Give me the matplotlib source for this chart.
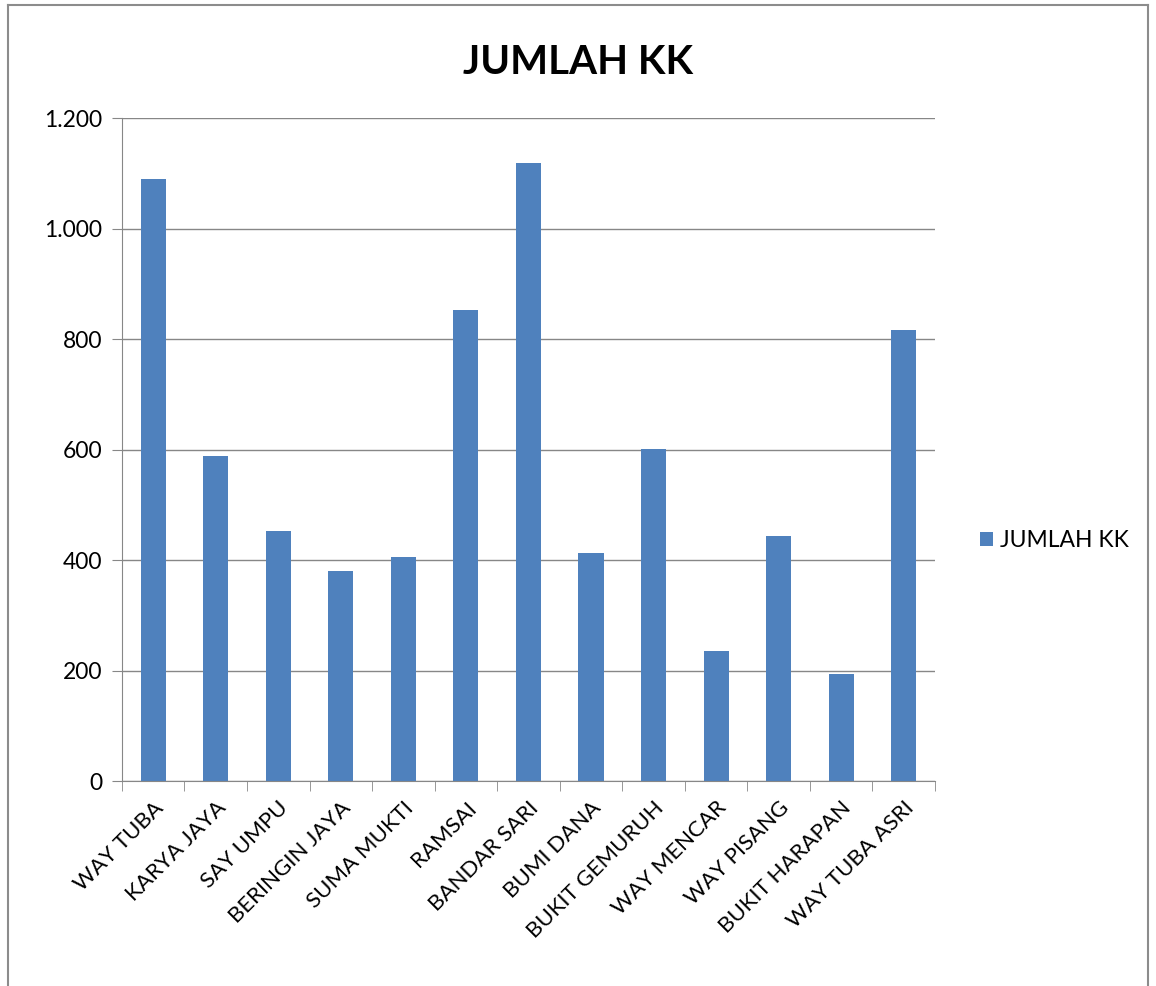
import matplotlib
matplotlib.use('Agg')
import matplotlib.pyplot as plt
from matplotlib.ticker import FuncFormatter, FixedLocator
from matplotlib.lines import Line2D

plt.rcParams['font.family'] = ['Lato', 'DejaVu Sans']

# Data
desa = ['WAY TUBA', 'KARYA JAYA', 'SAY UMPU', 'BERINGIN JAYA', 'SUMA MUKTI',
        'RAMSAI', 'BANDAR SARI', 'BUMI DANA', 'BUKIT GEMURUH', 'WAY MENCAR',
        'WAY PISANG', 'BUKIT HARAPAN', 'WAY TUBA ASRI']
jumlah_kk = [1089, 588, 453, 381, 405, 852, 1118, 412, 601, 235, 443, 193, 817]
yticks = [0, 200, 400, 600, 800, 1000, 1200]

warna_bar = '#4F81BD'
warna_grid = '#878787'

fig = plt.figure(figsize=(11.56, 9.86), dpi=100)
ax = fig.add_axes([0.1055, 0.2079, 0.7033, 0.6724])

x = list(range(len(desa)))
ax.bar(x, jumlah_kk, width=0.4, color=warna_bar, label='JUMLAH KK', zorder=3)

ax.set_xlim(-0.5, len(desa) - 0.5)
ax.set_ylim(0, 1200)
ax.set_yticks(yticks)
ax.yaxis.set_major_formatter(FuncFormatter(lambda v, p: f'{int(v):,}'.replace(',', '.')))
ax.yaxis.grid(True, color=warna_grid, linewidth=1, zorder=0)

# label kategori, garis tick di batas kategori
ax.set_xticks(x)
ax.set_xticklabels(desa, rotation=45, ha='right', rotation_mode='anchor', fontsize=16)
ax.tick_params(axis='x', which='major', length=0, pad=12)
ax.xaxis.set_minor_locator(FixedLocator([i - 0.5 for i in range(len(desa) + 1)]))
ax.tick_params(axis='x', which='minor', length=7, color=warna_grid, direction='out')
ax.tick_params(axis='y', length=7, color=warna_grid, labelsize=16.5, pad=7)

for s in ['top', 'right']:
    ax.spines[s].set_visible(False)
for s in ['left', 'bottom']:
    ax.spines[s].set_color(warna_grid)
    ax.spines[s].set_zorder(4)

fig.text(0.5, 0.937, 'JUMLAH KK', ha='center', va='center', fontsize=29, fontweight='bold')

fig.legend(loc='center left', bbox_to_anchor=(0.83, 0.452), frameon=False,
           fontsize=16.5, handlelength=0.55, handleheight=0.55, handletextpad=0.3)

# bingkai luar
for xs, ys in [([0.007, 0.007], [0.0, 0.995]), ([0.007, 0.993], [0.995, 0.995]),
               ([0.993, 0.993], [0.0, 0.995])]:
    fig.add_artist(Line2D(xs, ys, color='#8C8C8C', linewidth=1.5, transform=fig.transFigure))

fig.savefig('out.png', dpi=100)
